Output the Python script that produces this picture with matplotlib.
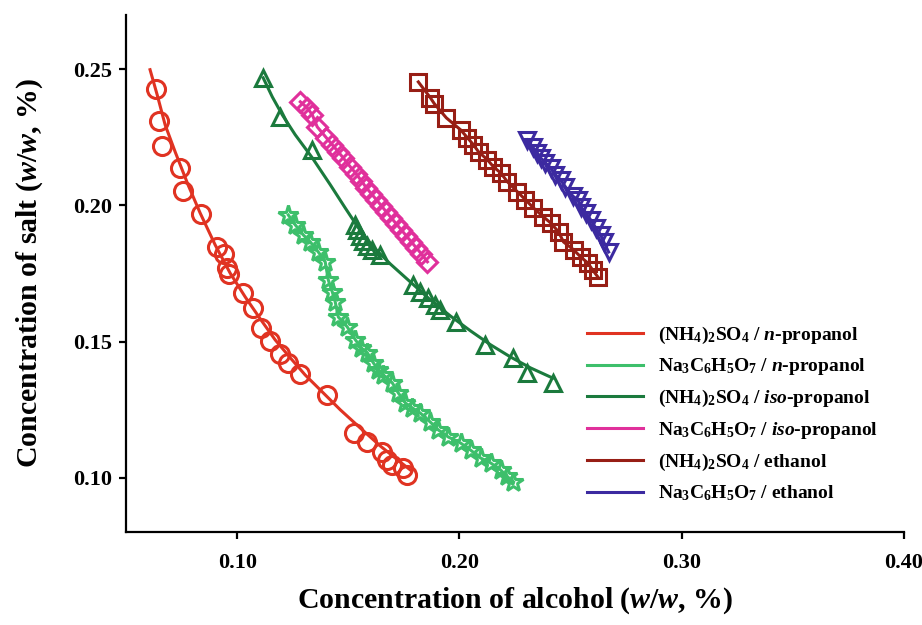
import matplotlib
matplotlib.use('Agg')
import matplotlib.pyplot as plt

plt.rcParams['font.family'] = ['Liberation Serif', 'DejaVu Serif']
plt.rcParams['font.weight'] = 'bold'
plt.rcParams['axes.labelweight'] = 'bold'
plt.rcParams['mathtext.fontset'] = 'custom'
plt.rcParams['mathtext.rm'] = 'Liberation Serif:bold'
plt.rcParams['mathtext.it'] = 'Liberation Serif:italic:bold'
plt.rcParams['mathtext.bf'] = 'Liberation Serif:bold'

# (NH4)2SO4 / n-propanol  (circles + fitted curve)
amm_npr_x = [0.0634, 0.0647, 0.0662, 0.0743, 0.0755, 0.0835, 0.0909, 0.0941, 0.0954,
             0.0965, 0.1024, 0.1071, 0.1108, 0.1149, 0.1191, 0.1228, 0.1284, 0.1404,
             0.1527, 0.1586, 0.1653, 0.1676, 0.1698, 0.1748, 0.1766]
amm_npr_y = [0.2429, 0.2311, 0.2220, 0.2137, 0.2055, 0.1969, 0.1847, 0.1822, 0.1769,
             0.1749, 0.1680, 0.1622, 0.1550, 0.1502, 0.1454, 0.1420, 0.1381, 0.1304,
             0.1163, 0.1131, 0.1094, 0.1065, 0.1046, 0.1035, 0.1010]
amm_npr_fit_x = [0.0608, 0.0640, 0.0676, 0.0721, 0.0779, 0.0833, 0.0901, 0.0968, 0.1036,
                 0.1104, 0.1171, 0.1239, 0.1306, 0.1374, 0.1464, 0.1554, 0.1644, 0.1734, 0.1779]
amm_npr_fit_y = [0.2499, 0.2407, 0.2296, 0.2197, 0.2076, 0.1973, 0.1855, 0.1752, 0.1664,
                 0.1583, 0.1506, 0.1440, 0.1377, 0.1322, 0.1249, 0.1182, 0.1116, 0.1057, 0.1028]

# Na3C6H5O7 / n-propanol  (stars)
cit_npr_x = [0.1230, 0.1261, 0.1297, 0.1329, 0.1365, 0.1396, 0.1410, 0.1428, 0.1441,
             0.1455, 0.1495, 0.1532, 0.1559, 0.1586, 0.1613, 0.1635, 0.1658, 0.1698,
             0.1725, 0.1757, 0.1788, 0.1824, 0.1869, 0.1905, 0.1950, 0.2005, 0.2050,
             0.2095, 0.2140, 0.2185, 0.2212, 0.2243]
cit_npr_y = [0.1965, 0.1929, 0.1892, 0.1866, 0.1829, 0.1793, 0.1726, 0.1682, 0.1646,
             0.1590, 0.1554, 0.1506, 0.1476, 0.1458, 0.1421, 0.1396, 0.1377, 0.1348,
             0.1311, 0.1274, 0.1256, 0.1237, 0.1204, 0.1175, 0.1149, 0.1127, 0.1101,
             0.1072, 0.1054, 0.1028, 0.1006, 0.0984]

# (NH4)2SO4 / iso-propanol  (triangles + fitted curve)
amm_ipr_x = [0.1117, 0.1194, 0.1338, 0.1532, 0.1541, 0.1554, 0.1568, 0.1586, 0.1608,
             0.1644, 0.1793, 0.1824, 0.1860, 0.1892, 0.1914, 0.1986, 0.2113, 0.2239,
             0.2306, 0.2419]
amm_ipr_y = [0.2469, 0.2326, 0.2204, 0.1929, 0.1910, 0.1888, 0.1870, 0.1851, 0.1837,
             0.1818, 0.1708, 0.1682, 0.1660, 0.1635, 0.1616, 0.1572, 0.1488, 0.1440,
             0.1385, 0.1348]
amm_ipr_fit_x = [0.1117, 0.1158, 0.1203, 0.1261, 0.1338, 0.1419, 0.1486, 0.1545, 0.1608,
                 0.1689, 0.1779, 0.1869, 0.1959, 0.2050, 0.2140, 0.2230, 0.2320, 0.2419]
amm_ipr_fit_y = [0.2469, 0.2399, 0.2333, 0.2260, 0.2175, 0.2076, 0.1991, 0.1918, 0.1851,
                 0.1785, 0.1719, 0.1653, 0.1594, 0.1539, 0.1488, 0.1443, 0.1403, 0.1366]

# Na3C6H5O7 / iso-propanol  (diamonds)
cit_ipr_x = [0.1284, 0.1315, 0.1338, 0.1360, 0.1401, 0.1428, 0.1455, 0.1477, 0.1509,
             0.1536, 0.1559, 0.1581, 0.1604, 0.1626, 0.1649, 0.1671, 0.1694, 0.1716,
             0.1739, 0.1761, 0.1784, 0.1806, 0.1829, 0.1856]
cit_ipr_y = [0.2381, 0.2359, 0.2333, 0.2289, 0.2249, 0.2223, 0.2197, 0.2175, 0.2142,
             0.2116, 0.2090, 0.2065, 0.2043, 0.2021, 0.1999, 0.1976, 0.1954, 0.1932,
             0.1910, 0.1888, 0.1866, 0.1844, 0.1822, 0.1793]

# (NH4)2SO4 / ethanol  (squares)
amm_eth_x = [0.1815, 0.1869, 0.1887, 0.1941, 0.2005, 0.2036, 0.2063, 0.2086, 0.2126,
             0.2153, 0.2185, 0.2216, 0.2261, 0.2297, 0.2333, 0.2378, 0.2410, 0.2446,
             0.2468, 0.2514, 0.2545, 0.2577, 0.2599, 0.2622]
amm_eth_y = [0.2454, 0.2396, 0.2374, 0.2322, 0.2278, 0.2249, 0.2223, 0.2197, 0.2168,
             0.2142, 0.2120, 0.2087, 0.2050, 0.2021, 0.1991, 0.1958, 0.1936, 0.1903,
             0.1866, 0.1837, 0.1811, 0.1789, 0.1763, 0.1738]

# Na3C6H5O7 / ethanol  (down triangles)
cit_eth_x = [0.2306, 0.2329, 0.2351, 0.2365, 0.2387, 0.2410, 0.2432, 0.2455, 0.2477,
             0.2509, 0.2532, 0.2545, 0.2568, 0.2590, 0.2613, 0.2635, 0.2649, 0.2671]
cit_eth_y = [0.2241, 0.2215, 0.2193, 0.2175, 0.2157, 0.2138, 0.2113, 0.2094, 0.2068,
             0.2035, 0.2021, 0.1996, 0.1974, 0.1947, 0.1918, 0.1892, 0.1866, 0.1829]

labels = [r'(NH$_4$)$_2$SO$_4$ / $n$-propanol',
          r'Na$_3$C$_6$H$_5$O$_7$ / $n$-propanol',
          r'(NH$_4$)$_2$SO$_4$ / $iso$-propanol',
          r'Na$_3$C$_6$H$_5$O$_7$ / $iso$-propanol',
          r'(NH$_4$)$_2$SO$_4$ / ethanol',
          r'Na$_3$C$_6$H$_5$O$_7$ / ethanol']
colors = ['#E03322', '#3DBF6B', '#1B7A3D', '#E0309B', '#971E15', '#3C2AA0']

fig = plt.figure(figsize=(9.22, 6.25), dpi=100)
ax = fig.add_axes([0.1367, 0.1488, 0.8438, 0.8272])

series = [
    (amm_npr_fit_x, amm_npr_fit_y, amm_npr_x, amm_npr_y, 'o', 13),
    (cit_npr_x, cit_npr_y, cit_npr_x, cit_npr_y, '*', 15),
    (amm_ipr_fit_x, amm_ipr_fit_y, amm_ipr_x, amm_ipr_y, '^', 12),
    (cit_ipr_x, cit_ipr_y, cit_ipr_x, cit_ipr_y, 'D', 10),
    (amm_eth_x, amm_eth_y, amm_eth_x, amm_eth_y, 's', 11),
    (cit_eth_x, cit_eth_y, cit_eth_x, cit_eth_y, 'v', 12),
]
for (lx, ly, mx, my, mk, ms), lab, c in zip(series, labels, colors):
    ax.plot(lx, ly, color=c, lw=2.2, label=lab, zorder=3)
    ax.plot(mx, my, linestyle='none', marker=mk, ms=ms, mfc='none',
            mec=c, mew=2.2, zorder=4)

ax.set_xlim(0.05, 0.40)
ax.set_ylim(0.08, 0.27)
ax.set_xticks([0.10, 0.20, 0.30, 0.40])
ax.set_xticklabels(['0.10', '0.20', '0.30', '0.40'])
ax.set_yticks([0.10, 0.15, 0.20, 0.25])
ax.set_yticklabels(['0.10', '0.15', '0.20', '0.25'])

for s in ['top', 'right']:
    ax.spines[s].set_visible(False)
for s in ['left', 'bottom']:
    ax.spines[s].set_linewidth(1.6)
ax.tick_params(axis='both', length=5, width=1.6, labelsize=16)
ax.tick_params(axis='x', pad=10)
ax.tick_params(axis='y', pad=5)

ax.set_xlabel(r'Concentration of alcohol ($w$/$w$, %)', fontsize=21.5, labelpad=9)
ax.set_ylabel(r'Concentration of salt ($w$/$w$, %)', fontsize=21.5, labelpad=20)

ax.legend(loc='upper left', bbox_to_anchor=(0.57, 0.435), frameon=False,
          fontsize=14, handlelength=2.9, handletextpad=0.75, labelspacing=0.55)

plt.savefig('out.png', dpi=100)
